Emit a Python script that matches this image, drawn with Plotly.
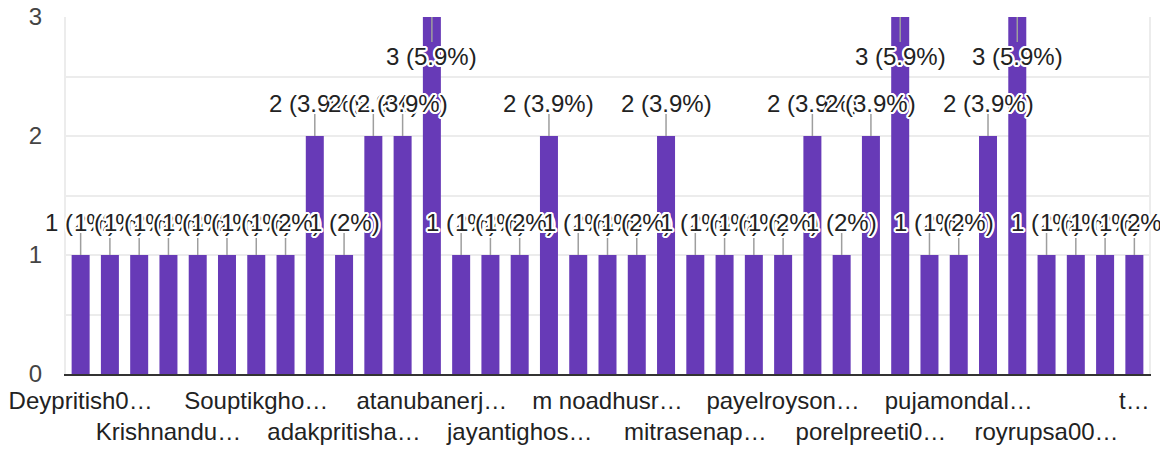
import plotly.graph_objects as go

# ---- data ----
counts = [1, 1, 1, 1, 1, 1, 1, 1, 2, 1, 2, 2, 3, 1, 1, 1, 2, 1, 1, 1, 2,
          1, 1, 1, 1, 2, 1, 2, 3, 1, 1, 2, 3, 1, 1, 1, 1]
shown_labels = ["Deypritish0…", "Krishnandu…", "Souptikgho…", "adakpritisha…",
                "atanubanerj…", "jayantighos…", "m noadhusr…", "mitrasenap…",
                "payelroyson…", "porelpreeti0…", "pujamondal…", "royrupsa00…", "t…"]
label_every = 3
y_ticks = [0, 1, 2, 3]

FONT = "Arial, 'Liberation Sans', sans-serif"
PURPLE = "#673ab7"
total = sum(counts)
xs = list(range(len(counts)))

fig = go.Figure(go.Bar(x=xs, y=counts, marker=dict(color=PURPLE, line=dict(width=0)),
                       hoverinfo="skip"))

halo = ", ".join(f"{dx}px {dy}px 0 #fff" for dx, dy in
                 [(2, 0), (-2, 0), (0, 2), (0, -2), (1, 1), (-1, -1), (1, -1), (-1, 1),
                  (2, 1), (-2, 1), (2, -1), (-2, -1), (1, 2), (-1, 2), (1, -2), (-1, -2)])

ymax = max(y_ticks)
shapes = []
annotations = []
for x, v in zip(xs, counts):
    pct = round(v / total * 100, 1)
    txt = f"{v} ({pct:g}%)"
    inside = v >= ymax
    shapes.append(dict(type="line", xref="x", yref="y", x0=x, x1=x,
                       ysizemode="pixel", yanchor=v, y0=0, y1=(-25 if inside else 22),
                       line=dict(color="#9e9e9e", width=1.5), layer="above"))
    annotations.append(dict(x=x, y=v, xref="x", yref="y", text=txt, showarrow=False,
                            yanchor="middle", yshift=(-39 if inside else 33),
                            font=dict(family=FONT, size=24, color="#222222", shadow=halo)))

tickvals = xs[::label_every]
ticktext = [(t if i % 2 == 0 else "<br>" + t) for i, t in enumerate(shown_labels)]

fig.update_layout(
    width=1160, height=450,
    margin=dict(l=66, r=11, t=17, b=76),
    paper_bgcolor="white", plot_bgcolor="white",
    bargap=0.385, showlegend=False,
    font=dict(family=FONT, size=24, color="#222222"),
    shapes=shapes, annotations=annotations,
    xaxis=dict(range=[-0.5, len(counts) - 0.5], tickmode="array", tickvals=tickvals,
               ticktext=ticktext, tickangle=0, automargin=False,
               showgrid=False, zeroline=False,
               showline=True, linecolor="#333333", linewidth=2, ticks="",
               tickfont=dict(size=24, color="#222222"), ticklabelstandoff=4),
    yaxis=dict(range=[0, ymax], tickmode="array", tickvals=y_ticks, automargin=False,
               showgrid=True, gridcolor="#ececec", gridwidth=2,
               minor=dict(dtick=0.5, showgrid=True, gridcolor="#ececec", gridwidth=2),
               zeroline=False, showline=True, mirror=True, linecolor="#ececec", linewidth=2,
               ticks="", tickfont=dict(size=24, color="#444444"), ticklabelstandoff=17),
)

fig.write_html("out.html", config={"displayModeBar": False},
               post_script="document.body.style.margin='0';document.body.style.overflow='hidden';")
